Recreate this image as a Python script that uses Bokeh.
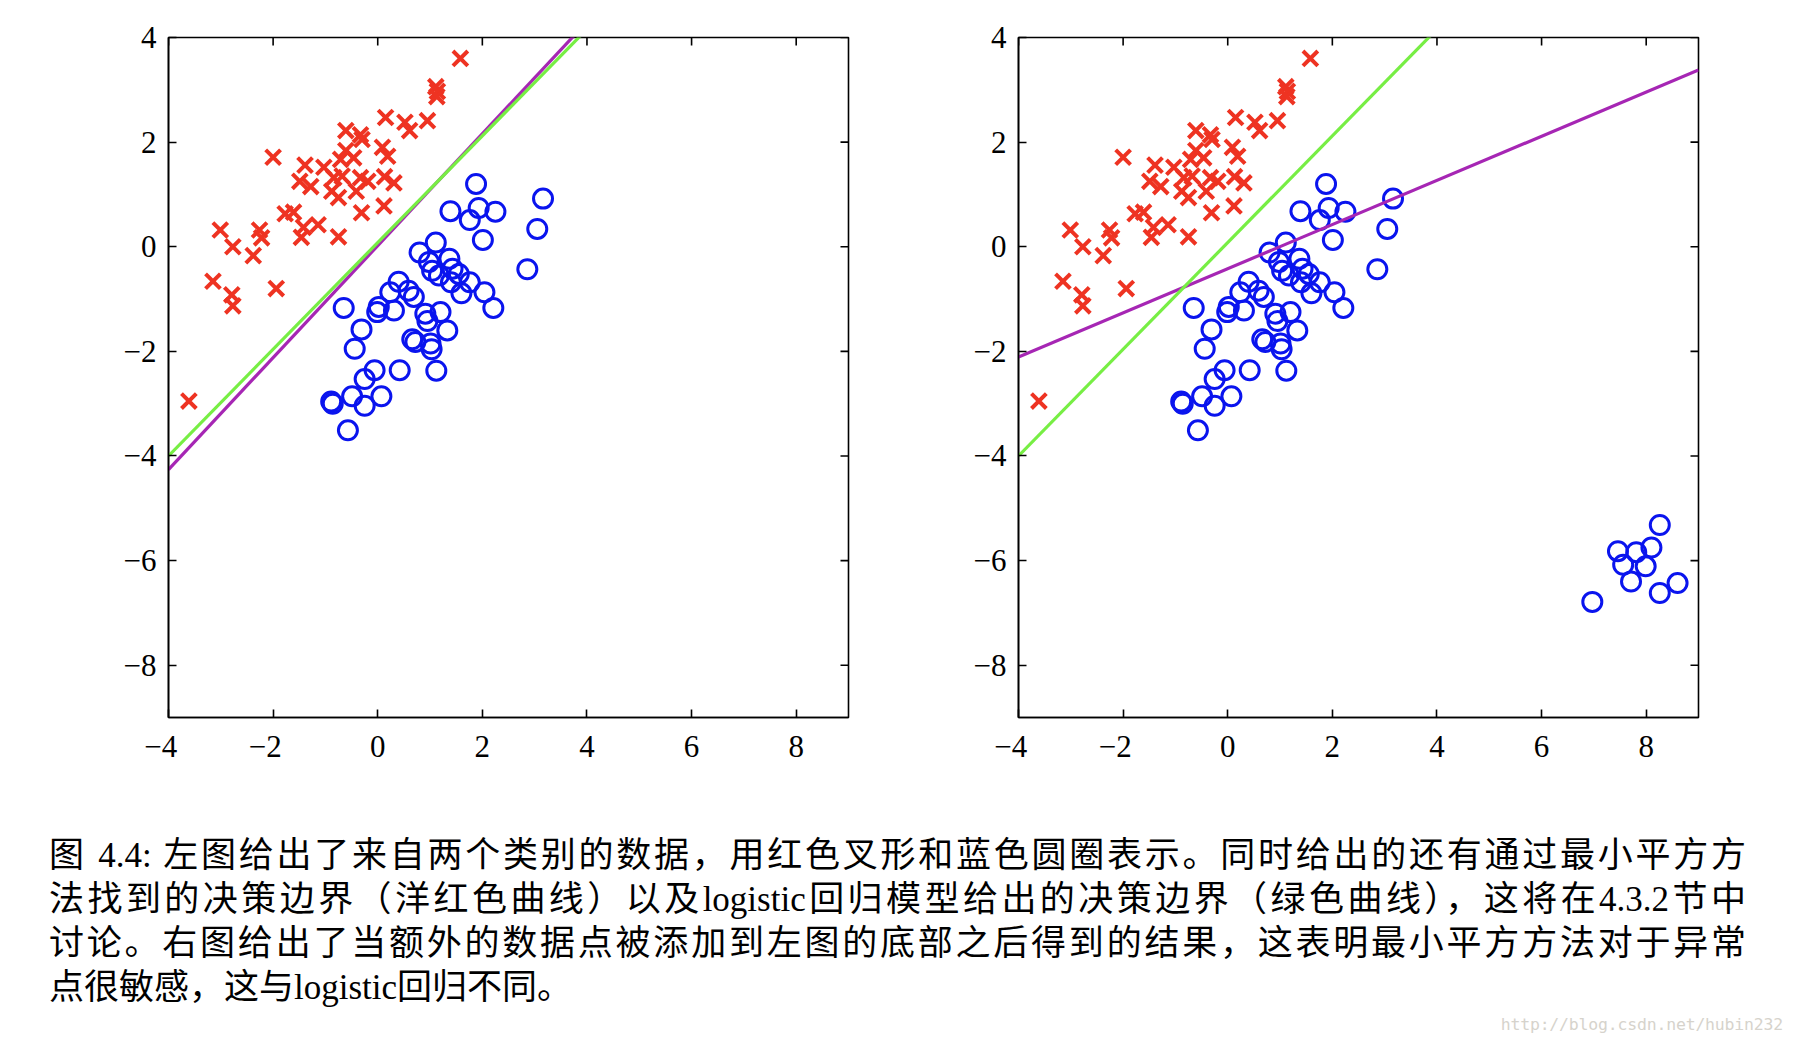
import math
from bokeh.plotting import figure
from bokeh.models import Range1d, FixedTicker, Div
from bokeh.layouts import column, row
from bokeh.embed import file_html
from bokeh.resources import INLINE

# ---------------- data ----------------
red_x = [1.58, 1.11, 1.14, 1.13, 0.15, 0.52, 0.61, 0.95, -0.61, -0.33, -0.30, 0.09, 0.19,
         -2.00, -0.61, -0.46, -0.71, -1.39, -1.03, -1.49, -1.28, -0.84, -0.68, -0.88, -0.75,
         -0.33, -0.19, -0.41, 0.13, 0.31, 0.12, -0.31, -1.77, -1.61, -1.42, -1.14, -1.46,
         -0.75, -3.01, -2.26, -2.22, -2.77, -2.38, -3.15, -2.79, -2.77, -1.94, -3.61]
red_y = [3.60, 3.06, 2.97, 2.87, 2.47, 2.38, 2.22, 2.41, 2.22, 2.14, 2.05, 1.90, 1.73,
         1.71, 1.84, 1.70, 1.67, 1.56, 1.52, 1.25, 1.15, 1.32, 1.35, 1.06, 0.94,
         1.32, 1.25, 1.06, 1.34, 1.22, 0.78, 0.65, 0.63, 0.66, 0.37, 0.42, 0.18,
         0.19, 0.32, 0.32, 0.17, 0.00, -0.17, -0.66, -0.92, -1.13, -0.80, -2.95]

blue_x = [1.88, 3.16, 1.39, 1.93, 2.25, 1.76, 3.05, 2.01, 1.11, 0.80, 1.37, 0.98, 1.04,
          1.17, 1.43, 1.55, 1.76, 1.40, 1.60, 2.04, 2.86, 2.21, 0.40, 0.24, 0.59, 0.69,
          0.02, 0.31, -0.01, -0.65, 0.91, 1.20, 0.95, 1.33, -0.31, 0.66, 0.72, 1.01, 1.03,
          -0.44, -0.06, 0.42, 1.12, -0.25, -0.49, 0.07, -0.89, -0.86, -0.25, -0.57]
blue_y = [1.20, 0.92, 0.68, 0.74, 0.67, 0.51, 0.34, 0.13, 0.08, -0.11, -0.23, -0.29, -0.46,
          -0.55, -0.42, -0.52, -0.68, -0.68, -0.89, -0.87, -0.43, -1.17, -0.67, -0.87, -0.84, -0.96,
          -1.15, -1.22, -1.25, -1.17, -1.28, -1.25, -1.42, -1.60, -1.58, -1.77, -1.82, -1.85, -1.96,
          -1.95, -2.36, -2.36, -2.37, -2.53, -2.86, -2.86, -2.96, -3.00, -3.04, -3.51]

# extra points added in the right panel
extra_x = [8.26, 7.46, 7.81, 8.10, 7.56, 7.99, 7.71, 8.26, 8.60, 6.97]
extra_y = [-5.32, -5.82, -5.84, -5.75, -6.08, -6.11, -6.40, -6.62, -6.43, -6.79]

# decision boundaries y = slope * x + intercept
ls_left = (1.07, 0.02)        # least squares (magenta), left panel
lr_left = (1.02, 0.08)        # logistic regression (green), left panel
ls_right = (0.422, -0.42)     # least squares (magenta), right panel
lr_right = (1.02, 0.08)       # logistic regression (green), right panel

x_ticks = [-4, -2, 0, 2, 4, 6, 8]
y_ticks = [-8, -6, -4, -2, 0, 2, 4]
x_lim = (-4, 9)
y_lim = (-9, 4)

caption_lines = [
    "图 4.4: 左图给出了来自两个类别的数据，用红色叉形和蓝色圆圈表示。同时给出的还有通过最小平方方",
    "法找到的决策边界（洋红色曲线）以及logistic回归模型给出的决策边界（绿色曲线），这将在4.3.2节中",
    "讨论。右图给出了当额外的数据点被添加到左图的底部之后得到的结果，这表明最小平方方法对于异常",
    "点很敏感，这与logistic回归不同。",
]
watermark = "http://blog.csdn.net/hubin232"

# ---------------- style ----------------
RED = "#ee3322"
BLUE = "#0a14ee"
GREEN = "#77ee44"
PURPLE = "#a626b4"
FONT = "Liberation Serif"


def minus(v, pad=False):
    if v < 0:
        # digit centred on the tick, minus sign hanging to the left
        return "\u2212" + str(abs(v)) + ("\u2002" if pad else "")
    return str(v)


def style_axis(ax, ticks, standoff, pad):
    ax.ticker = FixedTicker(ticks=ticks)
    ax.axis_line_color = "black"
    ax.axis_line_width = 1.6
    ax.major_tick_line_color = "black"
    ax.major_tick_line_width = 1.6
    ax.major_tick_in = 8
    ax.major_tick_out = 0
    ax.minor_tick_line_color = None
    ax.major_label_overrides = {t: minus(t, pad) for t in ticks}
    ax.major_label_text_font = FONT
    ax.major_label_text_font_size = "31px"
    ax.major_label_text_color = "black"
    ax.major_label_standoff = standoff


def make_fig(width, border_left, ls, lr, px, py):
    p = figure(width=width, height=777, x_range=Range1d(*x_lim), y_range=Range1d(*y_lim),
               output_backend="svg", toolbar_location=None,
               min_border_left=border_left, min_border_right=20,
               min_border_top=37, min_border_bottom=60)
    p.grid.visible = False
    p.outline_line_color = "black"
    p.outline_line_width = 1.6
    p.background_fill_color = "white"
    p.border_fill_color = "white"
    style_axis(p.xaxis[0], x_ticks, 11, True)
    style_axis(p.yaxis[0], y_ticks, 12, False)

    p.scatter(red_x, red_y, marker="x", size=21, line_color=RED, line_width=4)
    p.scatter(px, py, marker="circle", size=19, fill_color=None,
              line_color=BLUE, line_width=3)
    xs = [x_lim[0], x_lim[1]]
    p.line(xs, [ls[0] * x + ls[1] for x in xs], line_color=PURPLE, line_width=3.2)
    p.line(xs, [lr[0] * x + lr[1] for x in xs], line_color=GREEN, line_width=3.2)

    # inward ticks on the top and right edges of the box (clipped to the frame)
    p.scatter(x_ticks, [y_lim[1]] * len(x_ticks), marker="dash", size=16,
              angle=math.pi / 2, line_color="black", line_width=1.6)
    p.scatter([x_lim[1]] * len(y_ticks), y_ticks, marker="dash", size=16,
              angle=0, line_color="black", line_width=1.6)
    return p


p1 = make_fig(868, 168, ls_left, lr_left, blue_x, blue_y)
p2 = make_fig(850, 150, ls_right, lr_right, blue_x + extra_x, blue_y + extra_y)

line_style = ("width:1697px;height:44px;line-height:44px;white-space:nowrap;"
              "text-align:justify;text-align-last:justify;")
html = ("<div style=\"font-family:'Liberation Serif','Noto Sans CJK SC',serif;"
        "font-size:35px;color:#000;padding-top:52px;width:1778px;\">")
for i, ln in enumerate(caption_lines):
    st = line_style if i < len(caption_lines) - 1 else line_style.replace(
        "text-align:justify;text-align-last:justify;", "text-align:left;")
    html += "<div style=\"margin-left:44px;" + st + "\">" + ln + "</div>"
html += ("<div style=\"margin-top:5px;height:20px;line-height:20px;text-align:right;"
         "font-family:'DejaVu Sans Mono',monospace;font-size:16.5px;color:#d6d3cc;"
         "letter-spacing:-0.2px;\">" + watermark + "</div>")
html += "</div>"

cap = Div(text=html, width=1782, height=262)

layout = column(row(p1, p2), cap)
open("out.html", "w").write(file_html(layout, INLINE))
